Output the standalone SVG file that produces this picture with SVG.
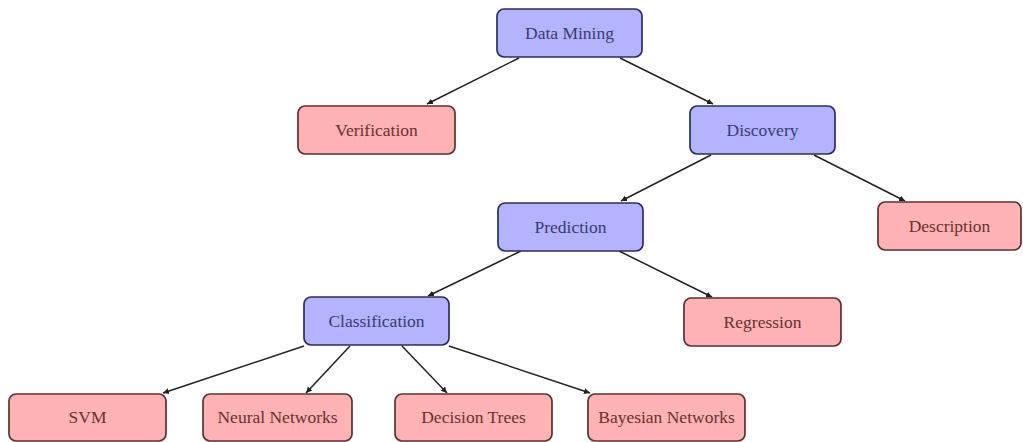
<svg xmlns="http://www.w3.org/2000/svg" width="1023" height="442" viewBox="0 0 1023 442">
<style>
.b rect{fill:#b3b3ff;stroke:#2e2e5c;stroke-width:1.7}
.r rect{fill:#ffb3b3;stroke:#5a3232;stroke-width:1.7}
text{font-family:'Liberation Serif','Times New Roman',serif;font-size:17.5px;text-anchor:middle}
.b text{fill:#3a3a78}
.r text{fill:#6e2f2f}
#edges line{stroke:#222;stroke-width:1.5;marker-end:url(#ah)}
</style>
<defs>
<marker id="ah" markerWidth="8" markerHeight="8" refX="6" refY="3.5" orient="auto" markerUnits="userSpaceOnUse">
<path d="M0,0.5 L6,3.5 L0,6.5 Z" fill="#222"/>
</marker>
</defs>
<rect width="1023" height="442" fill="#fff"/>
<g id="edges">
<line x1="519" y1="58" x2="427" y2="104"/>
<line x1="620" y1="58" x2="713" y2="104"/>
<line x1="711" y1="155" x2="621" y2="201"/>
<line x1="814" y1="155" x2="905" y2="201"/>
<line x1="521" y1="251" x2="428" y2="296"/>
<line x1="619" y1="251" x2="712" y2="297"/>
<line x1="304" y1="346" x2="163" y2="393"/>
<line x1="350" y1="346" x2="306" y2="393"/>
<line x1="402" y1="346" x2="447" y2="393"/>
<line x1="449" y1="346" x2="590" y2="393"/>
</g>
<g id="data-mining" class="b"><rect x="497" y="9" width="145" height="48" rx="7"/><text x="569.5" y="38.5">Data Mining</text></g>
<g id="verification" class="r"><rect x="298" y="106" width="157" height="48" rx="7"/><text x="376.5" y="135.5">Verification</text></g>
<g id="discovery" class="b"><rect x="690" y="106" width="145" height="48" rx="7"/><text x="762.5" y="135.5">Discovery</text></g>
<g id="prediction" class="b"><rect x="498" y="203" width="145" height="48" rx="7"/><text x="570.5" y="232.5">Prediction</text></g>
<g id="description" class="r"><rect x="878" y="202" width="143" height="48" rx="7"/><text x="949.5" y="231.5">Description</text></g>
<g id="classification" class="b"><rect x="304" y="297" width="145" height="48" rx="7"/><text x="376.5" y="326.5">Classification</text></g>
<g id="regression" class="r"><rect x="684" y="298" width="157" height="48" rx="7"/><text x="762.5" y="327.5">Regression</text></g>
<g id="svm" class="r"><rect x="9" y="394" width="157" height="47" rx="7"/><text x="87.5" y="423">SVM</text></g>
<g id="neural-networks" class="r"><rect x="203" y="394" width="149" height="47" rx="7"/><text x="277.5" y="423">Neural Networks</text></g>
<g id="decision-trees" class="r"><rect x="395" y="394" width="157" height="47" rx="7"/><text x="473.5" y="423">Decision Trees</text></g>
<g id="bayesian-networks" class="r"><rect x="588" y="394" width="157" height="47" rx="7"/><text x="666.5" y="423">Bayesian Networks</text></g>
</svg>
